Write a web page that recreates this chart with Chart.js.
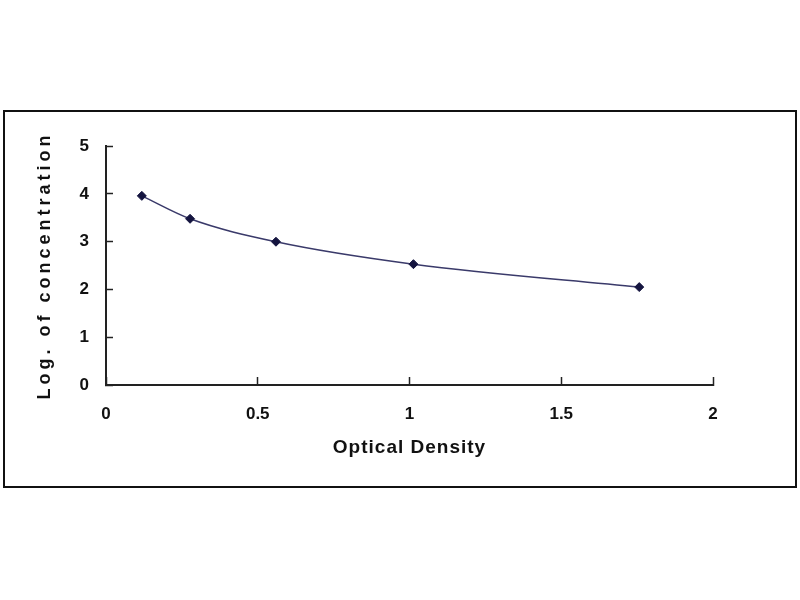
<!DOCTYPE html>
<html>
<head>
<meta charset="utf-8">
<title>Optical Density standard curve</title>
<script src="https://cdn.jsdelivr.net/npm/chart.js@4.4.1/dist/chart.umd.min.js"></script>
<style>
  html, body { margin: 0; padding: 0; background: #fff; }
  #box {
    position: absolute;
    left: 3px; top: 110px;
    width: 794px; height: 378px;
    box-sizing: border-box;
    border: 2px solid #111;
    background: #fff;
  }
  #curveChart { display: block; }
</style>
</head>
<body>
<div id="box"><canvas id="curveChart"></canvas></div>
<script>
// values
var odValues = [0.118, 0.277, 0.56, 1.013, 1.757];
var logConc = [3.96, 3.48, 3.0, 2.53, 2.05];
var xTicks = [0, 0.5, 1, 1.5, 2];
var xTickLabels = ['0', '0.5', '1', '1.5', '2'];
var yTicks = [0, 1, 2, 3, 4, 5];
var xTitle = 'Optical Density';
var yTitle = 'Log. of concentration';

// extra letter spacing for the axis titles (the original is stretched)
var titleGaps = { x: '1px', y: '4px' };

var titleSpacing = {
     id: 'titleSpacing',
     beforeDraw: function(chart) {
          Object.keys(chart.scales).forEach(function(id) {
               var scale = chart.scales[id];
               if (scale._spaced) return;
               var orig = scale.drawTitle;
               scale.drawTitle = function() {
                    this.ctx.save();
                    this.ctx.letterSpacing = titleGaps[id] || '0px';
                    orig.apply(this, arguments);
                    this.ctx.restore();
               };
               scale._spaced = true;
          });
     }
};

var points = odValues.map(function(v, i) { return { x: v, y: logConc[i] }; });

new Chart(document.getElementById('curveChart'), {
     type: 'line',
     data: {
          datasets: [
               {
                    data: points,
                    borderColor: '#3a3a6a',
                    borderWidth: 1.5,
                    cubicInterpolationMode: 'monotone',
                    pointStyle: 'rectRot',
                    pointRadius: 4.5,
                    pointBackgroundColor: '#14143f',
                    pointBorderColor: '#14143f',
                    pointBorderWidth: 1,
                    fill: false
               }
          ]
     },
     options: {
          responsive: true,
          maintainAspectRatio: false,
          animation: false,
          layout: {
               padding: { left: 0, top: 32, right: 82, bottom: 0 }
          },
          plugins: {
               legend: { display: false },
               tooltip: { enabled: false }
          },
          scales: {
               x: {
                    type: 'linear',
                    min: 0,
                    max: 2,
                    afterBuildTicks: function(scale) {
                         scale.ticks = xTicks.map(function(v) { return { value: v }; });
                    },
                    afterFit: function(scale) { scale.height = 101; },
                    grid: {
                         drawOnChartArea: false,
                         tickLength: -8,
                         tickColor: '#222',
                         tickWidth: 1.5
                    },
                    border: { color: '#222', width: 2 },
                    ticks: {
                         padding: 27,
                         color: '#111',
                         font: { family: '"Liberation Sans", Arial, sans-serif', size: 17, weight: 'bold' },
                         maxRotation: 0,
                         callback: function(value) {
                              var i = xTicks.indexOf(value);
                              return i >= 0 ? xTickLabels[i] : '';
                         }
                    },
                    title: {
                         display: true,
                         text: xTitle,
                         color: '#111',
                         padding: { top: 0, bottom: 27 },
                         font: { family: '"Liberation Sans", Arial, sans-serif', size: 19, weight: 'bold' }
                    }
               },
               y: {
                    type: 'linear',
                    min: 0,
                    max: 5,
                    afterBuildTicks: function(scale) {
                         scale.ticks = yTicks.map(function(v) { return { value: v }; });
                    },
                    afterFit: function(scale) { scale.width = 101; },
                    grid: {
                         drawOnChartArea: false,
                         tickLength: -7,
                         tickColor: '#222',
                         tickWidth: 1.5
                    },
                    border: { color: '#222', width: 2 },
                    ticks: {
                         padding: 24,
                         color: '#111',
                         font: { family: '"Liberation Sans", Arial, sans-serif', size: 17, weight: 'bold' }
                    },
                    title: {
                         display: true,
                         text: yTitle,
                         color: '#111',
                         padding: { top: 29, bottom: 0 },
                         font: { family: '"Liberation Sans", Arial, sans-serif', size: 18, weight: 'bold' }
                    }
               }
          }
     },
     plugins: [titleSpacing]
});
</script>
</body>
</html>
